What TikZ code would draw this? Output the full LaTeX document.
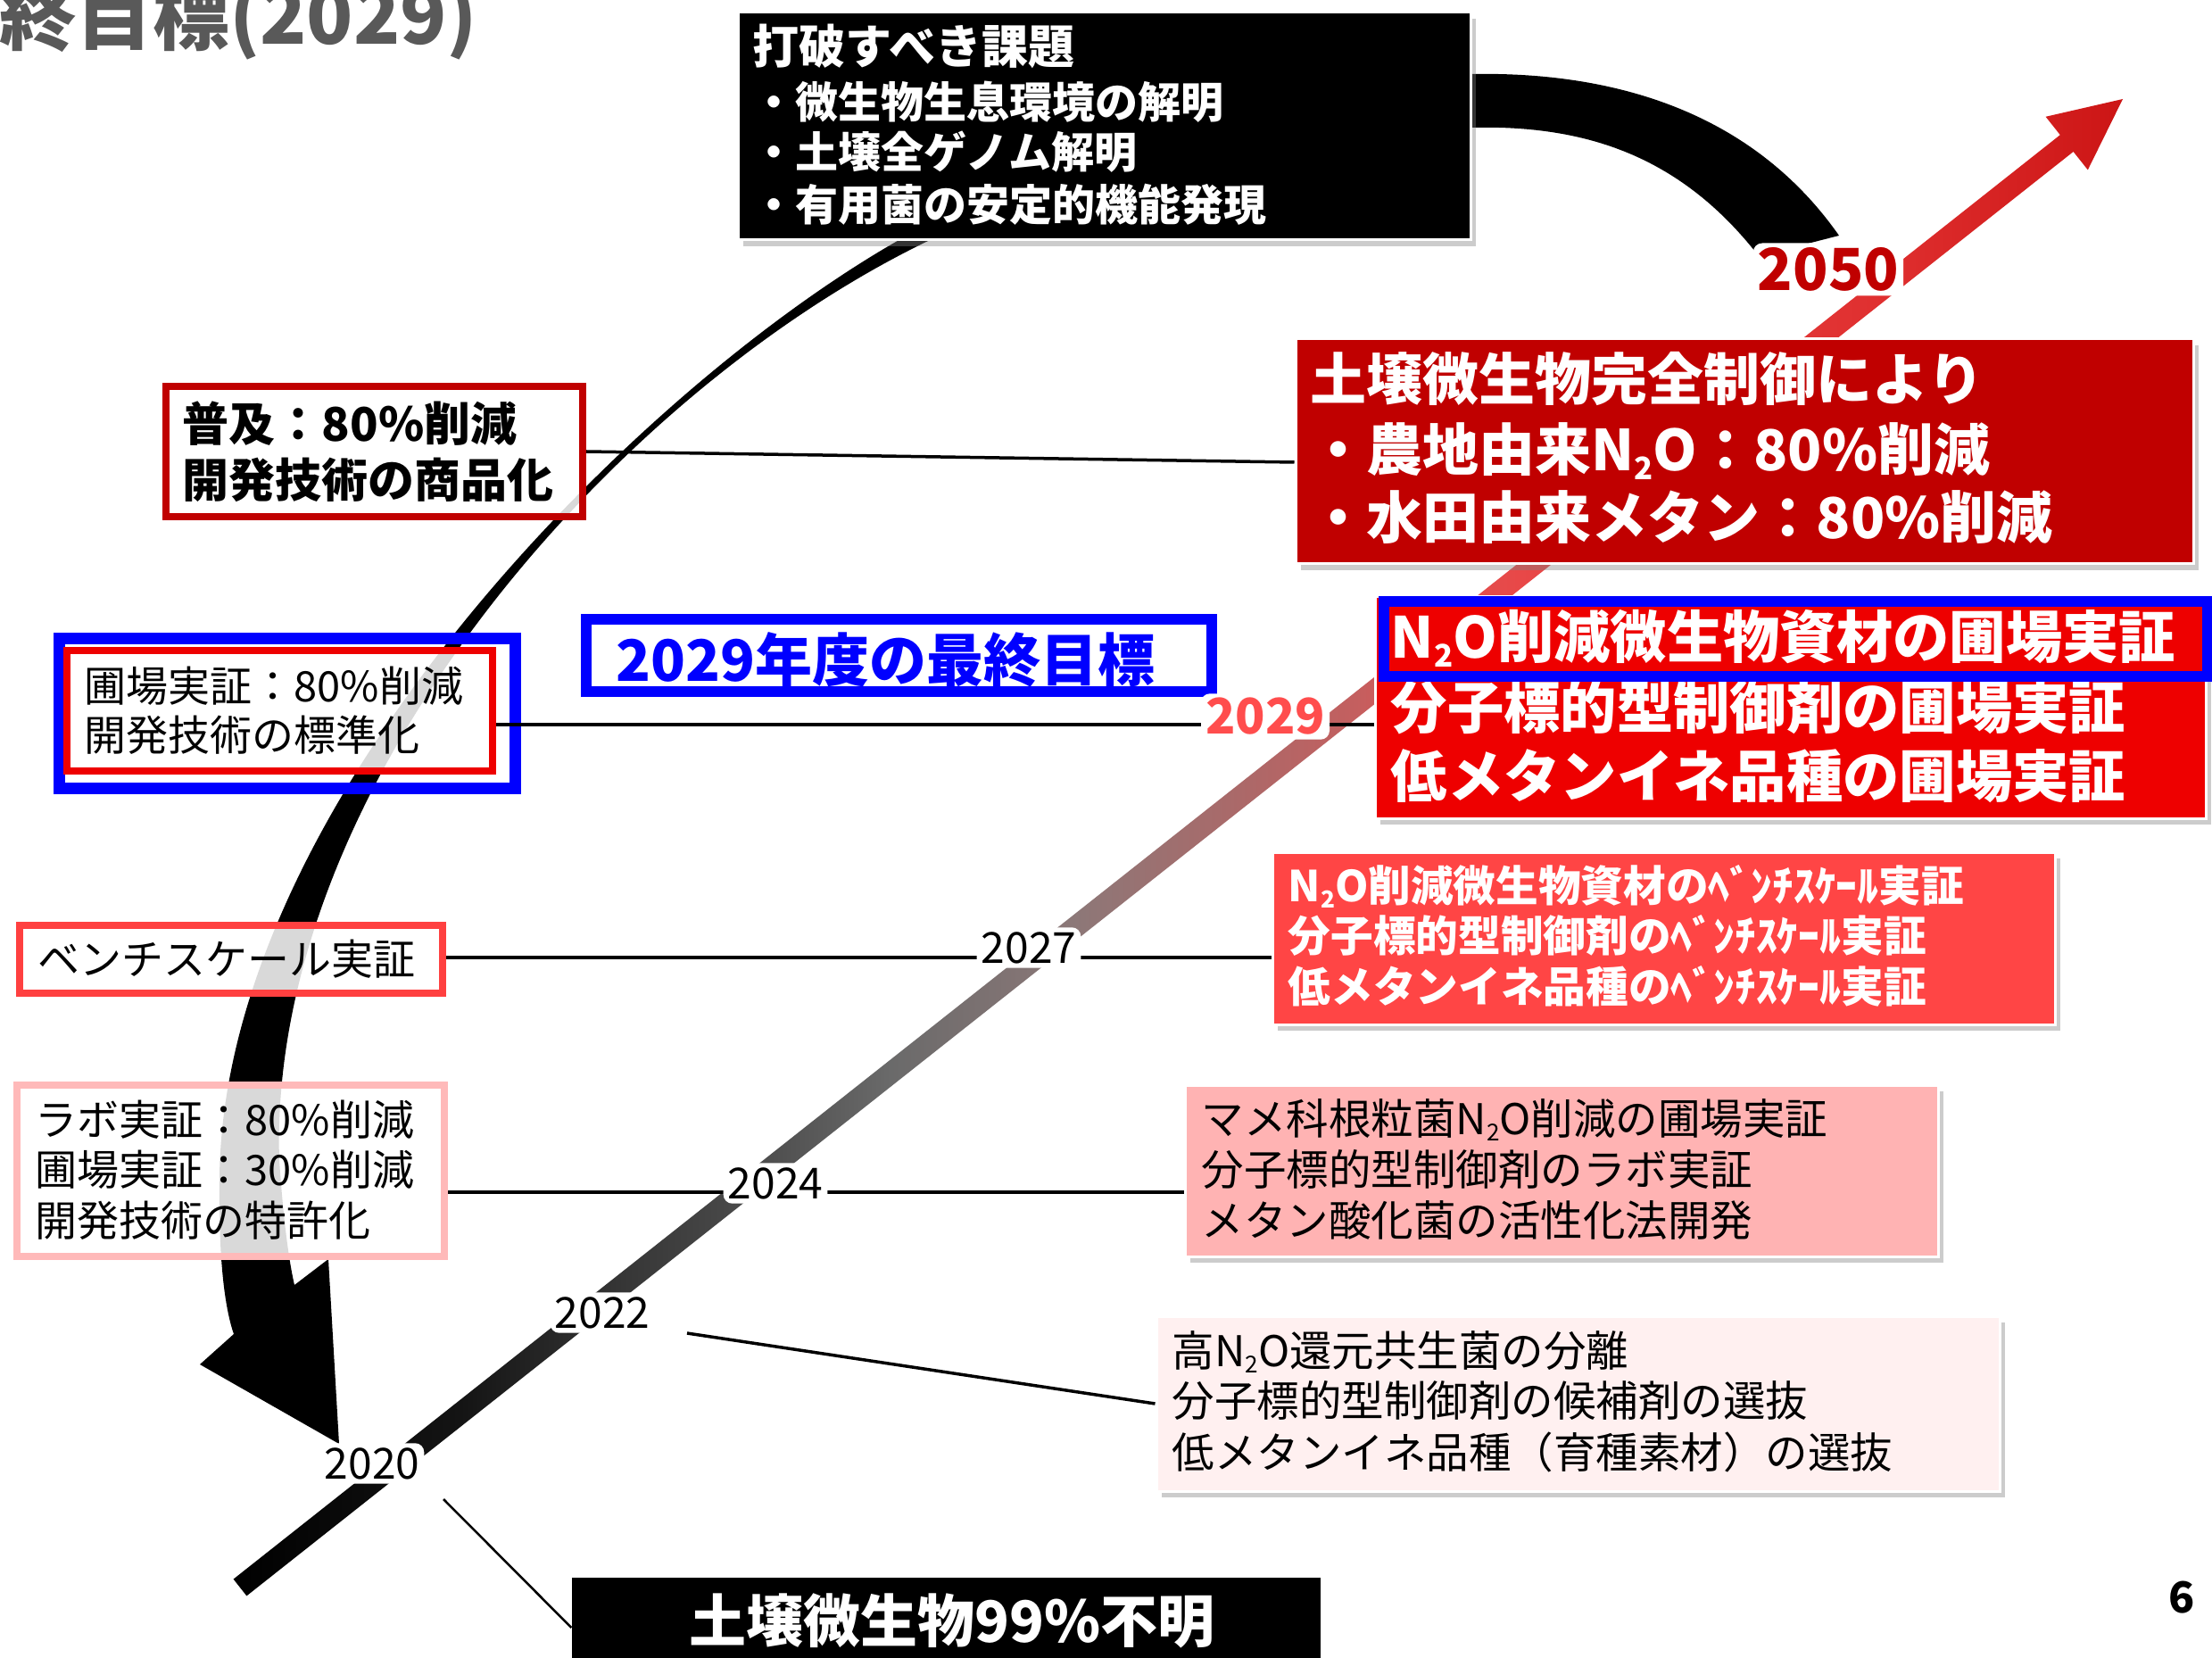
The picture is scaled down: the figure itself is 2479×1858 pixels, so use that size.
\documentclass[tikz,border=0pt]{standalone}
\usepackage{fontspec}
\usepackage{graphicx}
\setmainfont{Noto Sans CJK JP}
\usetikzlibrary{fit,shadows}
\definecolor{dred}{HTML}{C00000}
\definecolor{red2}{HTML}{EE0000}
\definecolor{lred}{HTML}{FF4545}
\definecolor{pinkf}{HTML}{FFB3B3}
\definecolor{palef}{HTML}{FFF0F0}
\definecolor{benchred}{HTML}{FF4040}
\definecolor{labop}{HTML}{FFB9B9}
\definecolor{pblue}{HTML}{0000FF}
\definecolor{tgray}{HTML}{595959}
\definecolor{lab29}{HTML}{FF4D4D}
\definecolor{tlA}{HTML}{141414}
\definecolor{tlB}{HTML}{363636}
\definecolor{tlC}{HTML}{4D4D4D}
\definecolor{tlD}{HTML}{6A6A6A}
\definecolor{tlE}{HTML}{8C7878}
\definecolor{tlF}{HTML}{AD6868}
\definecolor{tlG}{HTML}{C45F5F}
\definecolor{tlH}{HTML}{E05252}
\definecolor{tlI}{HTML}{E84848}
\definecolor{tlJ}{HTML}{E03030}
\definecolor{tlK}{HTML}{CC1515}
\pgfdeclarehorizontalshading{tlshade}{100bp}{color(0bp)=(black); color(25bp)=(black); color(31bp)=(tlA); color(35.3bp)=(tlB); color(39bp)=(tlC); color(42.4bp)=(tlD); color(47.2bp)=(tlE); color(51.9bp)=(tlF); color(54.7bp)=(tlG); color(57bp)=(tlH); color(59bp)=(tlI); color(68.4bp)=(tlJ); color(75bp)=(tlK); color(100bp)=(tlK)}
\newcommand\fsz[1]{\fontsize{#1}{#1}\selectfont}
\newcommand\Nsub{N\raisebox{-0.15em}{\scalebox{0.55}{2}}O}
\begin{document}
\begin{tikzpicture}[x=0.3pt,y=-0.3pt,
  frameL/.style={draw=#1, line width=2.4pt, fill=white, fill opacity=0.85, draw opacity=1, inner sep=0pt},
  solidbox/.style={fill=#1, draw=white, line width=0.9pt, inner sep=0pt,
    drop shadow={shadow xshift=1.8pt, shadow yshift=-2.1pt, opacity=0.4}},
  txt/.style={anchor=base west, inner sep=0pt},
  conn/.style={line width=1.05pt, draw=black},
  yr/.style={fill=white, inner sep=1.5pt, rounded corners=3pt}]
\useasboundingbox (0,0) rectangle (2479,1858);
\fill[white] (0,0) rectangle (2479,1858);

% big curved arrow
\fill[black] (2061,264) .. controls (1960,120) and (1800,80) .. (1648,83)
  .. controls (1400,85) and (1151,186) .. (1004,271)
  .. controls (710,440) and (250,900) .. (246,1320)
  .. controls (245,1400) and (250,1460) .. (262,1495)
  -- (224,1529) -- (380,1618) -- (368,1411) -- (330,1440)
  .. controls (323,1410) and (317,1360) .. (313,1300)
  .. controls (300,880) and (690,440) .. (1038,271)
  .. controls (1212,186) and (1450,146) .. (1648,143)
  .. controls (1770,140) and (1880,170) .. (1971,287) -- cycle;

% timeline
\coordinate (tS) at (269,1779);
\coordinate (tT) at (2379,111);
\shade[shading=tlshade] (261.6,1769.6) -- (2308.8,151.2) -- (2292.6,130.8) -- (tT) -- (2339.8,190.4) -- (2323.6,170) -- (276.4,1788.4) -- cycle;

% left framed boxes
\node[frameL=dred, fit={(186,433)(653,579)}] (fukyu) {};
\node[draw=pblue, line width=3.9pt, inner sep=0pt, fit={(66.5,715.5)(577.5,883.5)}] (bluebox) {};
\node[frameL=red2, fit={(75,729)(552,864)}] (jyun) {};
\node[frameL=benchred, fit={(22,1037)(496,1113)}] (bench) {};
\node[frameL=labop, fit={(19,1216)(498,1408)}] (labo) {};
\node[draw=pblue, line width=3.75pt, fill=white, inner sep=0pt, fit={(657,694)(1358,775)}] (goal) {};

% right filled boxes
\node[solidbox=black, fit={(827,14)(1648,269)}] (tasks) {};
\node[solidbox=dred, fit={(1452,380)(2458,632)}] (redbig) {};
\node[solidbox=red2, fit={(1541,669)(2472,917)}] (n2o) {};
\node[solidbox=lred, fit={(1426,955)(2303,1148)}] (lredbox) {};
\node[solidbox=pinkf, fit={(1328,1216)(2172,1408)}] (pink) {};
\node[solidbox=palef, fit={(1296,1475)(2241,1671)}] (pale) {};
\node[fill=black, inner sep=0pt, fit={(641,1768)(1480,1880)}] (bot) {};

% texts
\node[txt, text=white, font={\bfseries\fsz{15.6pt}}] (ta1) at (843,72) {打破すべき課題};
\node[txt, text=white, font={\bfseries\fsz{14.4pt}}] (ta2) at (843,133) {・微生物生息環境の解明};
\node[txt, text=white, font={\bfseries\fsz{14.4pt}}] (ta3) at (843,189) {・土壌全ゲノム解明};
\node[txt, text=white, font={\bfseries\fsz{14.4pt}}] (ta4) at (843,248) {・有用菌の安定的機能発現};

\node[txt, text=white, font={\bfseries\fsz{18.9pt}}] (rb1) at (1468,449) {土壌微生物完全制御により};
\node[txt, text=white, font={\bfseries\fsz{18.9pt}}] (rb2) at (1468,528) {・農地由来\Nsub{}：80\%削減};
\node[txt, text=white, font={\bfseries\fsz{18.9pt}}] (rb3) at (1468,604) {・水田由来メタン：80\%削減};

\node[txt, text=white, font={\bfseries\fsz{19pt}}] (nb1) at (1558,738) {\Nsub{}削減微生物資材の圃場実証};
\node[txt, text=white, font={\bfseries\fsz{19pt}}] (nb2) at (1558,817) {分子標的型制御剤の圃場実証};
\node[txt, text=white, font={\bfseries\fsz{19pt}}] (nb3) at (1558,894) {低メタンイネ品種の圃場実証};
\node[draw=pblue, line width=3.6pt, inner sep=0pt, fit={(1551,674)(2474,758)}] (n2oframe) {};

\node[txt, text=white, font={\bfseries\fsz{14.3pt}}] (lb1) at (1443,1010) {\Nsub{}削減微生物資材のﾍﾞﾝﾁｽｹｰﾙ実証};
\node[txt, text=white, font={\bfseries\fsz{14.3pt}}] (lb2) at (1443,1066) {分子標的型制御剤のﾍﾞﾝﾁｽｹｰﾙ実証};
\node[txt, text=white, font={\bfseries\fsz{14.3pt}}] (lb3) at (1443,1123) {低メタンイネ品種のﾍﾞﾝﾁｽｹｰﾙ実証};

\node[txt, font={\fsz{14.25pt}}] (pb1) at (1346,1271) {マメ科根粒菌\Nsub{}削減の圃場実証};
\node[txt, font={\fsz{14.25pt}}] (pb2) at (1346,1328) {分子標的型制御剤のラボ実証};
\node[txt, font={\fsz{14.25pt}}] (pb3) at (1346,1385) {メタン酸化菌の活性化法開発};

\node[txt, font={\fsz{14.25pt}}] (qb1) at (1313,1531) {高\Nsub{}還元共生菌の分離};
\node[txt, font={\fsz{14.25pt}}] (qb2) at (1313,1587) {分子標的型制御剤の候補剤の選抜};
\node[txt, font={\fsz{14.25pt}}] (qb3) at (1313,1645) {低メタンイネ品種（育種素材）の選抜};

\node[txt, font={\bfseries\fsz{15.6pt}}] (fk1) at (204,495) {普及：80\%削減};
\node[txt, font={\bfseries\fsz{15.6pt}}] (fk2) at (204,558) {開発技術の商品化};

\node[txt, font={\fsz{14.1pt}}] (jy1) at (94,787) {圃場実証：80\%削減};
\node[txt, font={\fsz{14.1pt}}] (jy2) at (94,842) {開発技術の標準化};

\node[txt, font={\fsz{14.1pt}}] (bn1) at (42,1092) {ベンチスケール実証};

\node[txt, font={\fsz{14.1pt}}] (lab1) at (39,1272) {ラボ実証：80\%削減};
\node[txt, font={\fsz{14.1pt}}] (lab2) at (39,1328) {圃場実証：30\%削減};
\node[txt, font={\fsz{14.1pt}}] (lab3) at (39,1385) {開発技術の特許化};

\node[txt, text=pblue, font={\bfseries\fsz{19.2pt}}] (gl1) at (690,764) {2029年度の最終目標};
\node[txt, text=white, font={\bfseries\fsz{19.2pt}}] (bt1) at (772,1840) {土壌微生物99\%不明};

\node[anchor=base east, inner sep=0pt, text=tgray, font={\bfseries\fsz{25.8pt}}] (title) at (536,50) {終目標(2029)};
\node[txt, font={\bfseries\fsz{14.4pt}}] (pgno) at (2430,1807) {6};

% connectors
\coordinate (c29) at (0,812);
\coordinate (c27) at (0,1073);
\coordinate (c24) at (0,1336);
\coordinate (c22s) at (770,1494);
\coordinate (c20s) at (497,1680);
\draw[conn] (fukyu.east) -- ([yshift=-3.6pt]redbig.west);
\draw[conn] (jyun.east |- c29) -- (n2o.west |- c29);
\draw[conn] (bench.east |- c27) -- (lredbox.west |- c27);
\draw[conn] (labo.east |- c24) -- (pink.west |- c24);
\draw[conn] (c22s) -- (pale.west);
\draw[conn, line width=0.75pt] (c20s) -- (bot.west);

% year labels
\node[yr, text=dred, font={\bfseries\fsz{19.5pt}}] (y2050) at (2049,302) {2050};
\node[yr, text=lab29, font={\bfseries\fsz{16.5pt}}] (y2029) at (1418,803) {2029};
\node[yr, font={\fsz{14.4pt}}] (y2027) at (1153,1062) {2027};
\node[yr, font={\fsz{14.4pt}}] (y2024) at (869,1326) {2024};
\node[yr, font={\fsz{14.4pt}}] (y2022) at (675,1471) {2022};
\node[yr, font={\fsz{14.4pt}}] (y2020) at (417,1640) {2020};
\end{tikzpicture}
\end{document}
